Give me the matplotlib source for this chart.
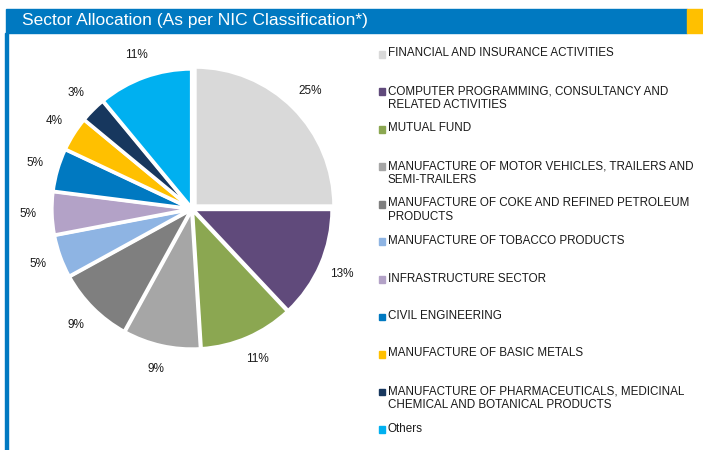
import matplotlib.pyplot as plt
from matplotlib.patches import Rectangle
from matplotlib import font_manager

sectors = [
    "FINANCIAL AND INSURANCE ACTIVITIES",
    "COMPUTER PROGRAMMING, CONSULTANCY AND\nRELATED ACTIVITIES",
    "MUTUAL FUND",
    "MANUFACTURE OF MOTOR VEHICLES, TRAILERS AND\nSEMI-TRAILERS",
    "MANUFACTURE OF COKE AND REFINED PETROLEUM\nPRODUCTS",
    "MANUFACTURE OF TOBACCO PRODUCTS",
    "INFRASTRUCTURE SECTOR",
    "CIVIL ENGINEERING",
    "MANUFACTURE OF BASIC METALS",
    "MANUFACTURE OF PHARMACEUTICALS, MEDICINAL\nCHEMICAL AND BOTANICAL PRODUCTS",
    "Others",
]
weights = [25, 13, 11, 9, 9, 5, 5, 5, 4, 3, 11]
colors = ["#D9D9D9", "#604A7B", "#8BA751", "#A6A6A6", "#7F7F7F", "#8EB4E3",
          "#B3A2C7", "#0079C1", "#FFC000", "#17375E", "#00B0F0"]

fig = plt.figure(figsize=(7.03, 4.5), dpi=100)
W, H = 703, 450

# header bar
fig.patches.append(Rectangle((6 / W, 1 - 33 / H), 681 / W, 24 / H,
                             transform=fig.transFigure, color="#0079C1", zorder=0))
fig.patches.append(Rectangle((687 / W, 1 - 33 / H), 16 / W, 24 / H,
                             transform=fig.transFigure, color="#FFC000", zorder=0))
fig.patches.append(Rectangle((5 / W, 0), 2.5 / W, 1 - 33 / H,
                             transform=fig.transFigure, color="#0079C1", zorder=0))

names = {f.name for f in font_manager.fontManager.ttflist}
if "Liberation Sans Narrow" in names:
    title_font, title_size = "Liberation Sans Narrow", 13.5
else:
    title_font, title_size = "Liberation Sans", 12.5
fig.text(22 / W, 1 - 21 / H, "Sector Allocation (As per NIC Classification*)",
         color="white", fontsize=title_size, va="center", ha="left",
         family=title_font)

# pie
cx, cy, r = 192, 209, 139
ax = fig.add_axes([(cx - r) / W, (H - cy - r) / H, 2 * r / W, 2 * r / H])
explode = [0.03] + [0.008] * (len(weights) - 1)
wedges, texts = ax.pie(weights, colors=colors, startangle=90, counterclock=False,
                       explode=explode, labels=[f"{v}%" for v in weights],
                       labeldistance=1.17,
                       wedgeprops=dict(edgecolor="white", linewidth=2.5),
                       textprops=dict(fontsize=8.5, family="Liberation Sans", color="#1a1a1a"))
for t in texts:
    t.set_ha("center")
    t.set_va("center")
ax.set_xlim(-1, 1)
ax.set_ylim(-1, 1)
ax.set_aspect("equal")
ax.axis("off")

# legend
y0, step = 54, 37.5
for i, (name, c) in enumerate(zip(sectors, colors)):
    y = y0 + i * step
    fig.patches.append(Rectangle((378.5 / W, 1 - (y + 3.5) / H), 6.5 / W, 6.5 / H,
                                 transform=fig.transFigure, color=c))
    fig.text(388 / W, 1 - (y - 6.5) / H, name, fontsize=8.4, va="top", ha="left",
             family="Liberation Sans", color="#1a1a1a", linespacing=1.22)

fig.savefig("out.png", dpi=100)
